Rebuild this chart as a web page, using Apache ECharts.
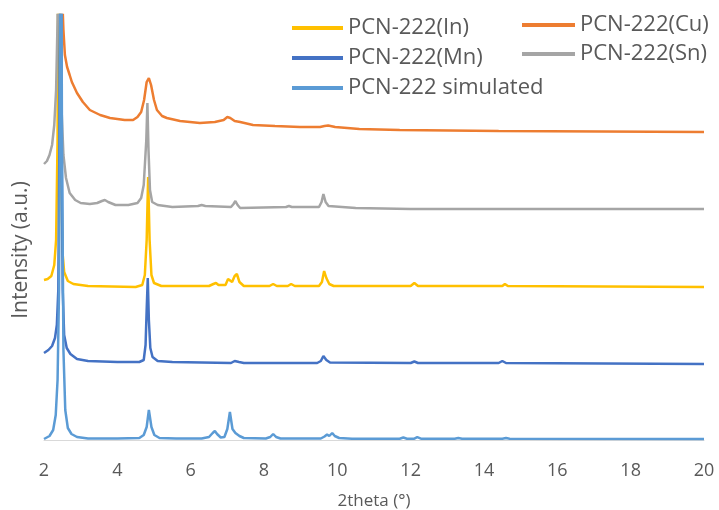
<!DOCTYPE html>
<html lang="en">
<head>
    <meta http-equiv="content-type" content="text/html;charset=utf-8">
    <title>PCN-222 XRD</title>
    <script src="https://cdn.jsdelivr.net/npm/echarts@6/dist/echarts.min.js"></script>
    <style>
        html, body { margin: 0; padding: 0; background: #fff; }
        #main { width: 719px; height: 510px; }
    </style>
</head>
<body>
    <div id="main"></div>
    <script>
        // x ticks
        var xTicks = [2, 4, 6, 8, 10, 12, 14, 16, 18, 20];

        // patterns, [2theta, intensity] (offset already included, a.u.)
        var pcnIn = [[2.0,160],[2.1,161],[2.2,164],[2.28,175],[2.33,200],[2.37,300],[2.41,700],[2.46,300],[2.5,190],[2.55,168],[2.65,159],[2.8,156],[3.2,154],[4.5,153],[4.68,155],[4.75,165],[4.8,200],[4.84,263],[4.88,200],[4.93,165],[5.0,157],[5.2,154],[6.5,154],[6.62,156],[6.69,157],[6.76,155],[6.95,155],[7.02,161],[7.07,163],[7.13,158],[7.2,164],[7.26,166],[7.33,158],[7.45,154],[8.15,154],[8.25,156],[8.35,154],[8.65,154],[8.74,156],[8.84,154],[9.5,154],[9.58,158],[9.64,169],[9.7,162],[9.78,156],[9.9,154],[12.0,154],[12.1,157],[12.2,154],[14.5,154],[14.57,156],[14.65,154],[20,153]];
        var pcnCu = [[2.5,440],[2.53,410],[2.57,385],[2.63,373],[2.7,365],[2.76,358],[2.9,347],[3.06,338],[3.25,330],[3.53,325],[3.8,322],[4.2,320],[4.43,320],[4.55,323],[4.65,328],[4.73,340],[4.8,358],[4.86,362],[4.92,355],[5.0,340],[5.08,330],[5.22,324],[5.35,322],[5.71,319],[6.25,317],[6.66,318],[6.9,320],[7.0,323],[7.08,322],[7.2,319],[7.35,318],[7.7,315],[8.3,314],[8.98,313],[9.53,313],[9.65,314],[9.75,314.5],[9.94,313],[10.6,311],[11.7,310],[14.4,309],[17.2,308.5],[20,308]];
        var pcnMn = [[2.0,87],[2.12,90],[2.22,94],[2.3,102],[2.35,115],[2.39,150],[2.42,300],[2.45,700],[2.48,300],[2.51,150],[2.55,105],[2.62,92],[2.72,86],[2.9,81],[3.2,79],[4.0,78],[4.6,78],[4.72,80],[4.77,95],[4.8,130],[4.83,162],[4.86,120],[4.9,92],[4.96,83],[5.1,79],[5.5,78],[7.1,77],[7.2,79],[7.25,80],[7.32,78],[7.45,77],[9.45,77],[9.55,79],[9.62,84],[9.7,80],[9.8,77.5],[12.0,77],[12.1,78.5],[12.2,77],[14.4,77],[14.5,79],[14.6,77],[20,76]];
        var pcnSn = [[2.0,276],[2.08,279],[2.15,285],[2.22,295],[2.28,315],[2.33,350],[2.37,420],[2.4,700],[2.44,420],[2.48,330],[2.53,285],[2.6,262],[2.7,247],[2.85,240],[3.0,237],[3.25,236],[3.45,237],[3.58,239],[3.66,240],[3.75,238],[3.95,235],[4.3,235],[4.55,237],[4.65,242],[4.72,255],[4.79,300],[4.82,337],[4.85,290],[4.89,250],[4.95,238],[5.1,235],[5.5,233],[6.2,234],[6.3,235],[6.4,234],[7.1,233],[7.17,236],[7.22,239],[7.28,235],[7.35,232],[8.6,233],[8.68,234],[8.76,233],[9.5,233],[9.57,238],[9.62,246],[9.68,238],[9.76,234],[10.5,232],[12.0,231],[12.05,232],[12.15,231],[14.45,231],[14.5,232],[14.58,231],[20,231]];
        var pcnSim = [[2.0,1],[2.15,4],[2.25,10],[2.32,25],[2.37,60],[2.41,150],[2.43,300],[2.46,650],[2.49,300],[2.53,90],[2.58,30],[2.65,12],[2.75,6],[2.9,3],[3.2,1.5],[4.0,1.5],[4.6,2],[4.72,5],[4.8,13],[4.86,30],[4.93,13],[5.01,5],[5.15,2],[5.6,1.5],[6.3,1.5],[6.5,3],[6.6,7],[6.66,9],[6.72,6],[6.82,2.5],[6.92,3],[7.0,11],[7.07,28],[7.14,11],[7.22,7],[7.27,8],[7.33,4],[7.45,2],[8.05,1.5],[8.17,3],[8.25,6],[8.33,3],[8.45,1.5],[9.55,1.5],[9.65,3.5],[9.72,5.5],[9.78,4],[9.86,7],[9.93,4],[10.05,2],[10.4,1.3],[11.7,1.3],[11.8,2.5],[11.9,1.3],[12.1,1.3],[12.18,2.8],[12.28,1.3],[13.2,1.3],[13.3,2],[13.4,1.3],[14.5,1.3],[14.6,2],[14.7,1.3],[20,1]];

        var legendLeft = ['PCN-222(In)', 'PCN-222(Mn)', 'PCN-222 simulated'];
        var legendRight = ['PCN-222(Cu)', 'PCN-222(Sn)'];

        var myChart = echarts.init(document.getElementById('main'));

        function line(name, data, color) {
            return {
                name: name,
                type: 'line',
                data: data,
                showSymbol: false,
                smooth: false,
                clip: true,
                lineStyle: { color: color, width: 2.5 },
                itemStyle: { color: color }
            };
        }

        var FONT = 'Open Sans';
        var legendText = { color: '#595959', fontSize: 22, fontFamily: FONT, lineHeight: 24 };

        var option = {
            animation: false,
            textStyle: { fontFamily: FONT },
            grid: { left: 44, right: 15, top: 15, bottom: 70, outerBoundsMode: 'none' },
            legend: [
                {
                    data: legendLeft, orient: 'vertical', left: 287, top: 11,
                    icon: 'rect', itemWidth: 51, itemHeight: 4, itemGap: 6,
                    textStyle: legendText
                },
                {
                    data: legendRight, orient: 'vertical', left: 517, top: 8,
                    icon: 'rect', itemWidth: 53, itemHeight: 4, itemGap: 5,
                    textStyle: legendText
                }
            ],
            xAxis: {
                type: 'value', min: 2, max: 20, interval: 2,
                name: '2theta (°)', nameLocation: 'middle', nameGap: 53,
                nameTextStyle: { color: '#595959', fontSize: 17, fontFamily: FONT },
                axisLine: { lineStyle: { color: '#D9D9D9', width: 1 } },
                axisTick: { show: false },
                splitLine: { show: false },
                axisLabel: { color: '#595959', fontSize: 18, margin: 22, fontFamily: FONT }
            },
            yAxis: {
                type: 'value', min: 0, max: 425,
                show: false
            },
            graphic: [{
                type: 'text', x: 21, y: 250, rotation: Math.PI / 2,
                style: {
                    text: 'Intensity (a.u.)', fill: '#595959', fontSize: 21,
                    fontFamily: FONT, textAlign: 'center', textVerticalAlign: 'middle'
                }
            }],
            series: [
                line('PCN-222(In)', pcnIn, '#FFC000'),
                line('PCN-222(Cu)', pcnCu, '#ED7D31'),
                line('PCN-222(Mn)', pcnMn, '#4472C4'),
                line('PCN-222(Sn)', pcnSn, '#A5A5A5'),
                line('PCN-222 simulated', pcnSim, '#5B9BD5')
            ]
        };
        myChart.setOption(option);
    </script>
</body>
</html>
